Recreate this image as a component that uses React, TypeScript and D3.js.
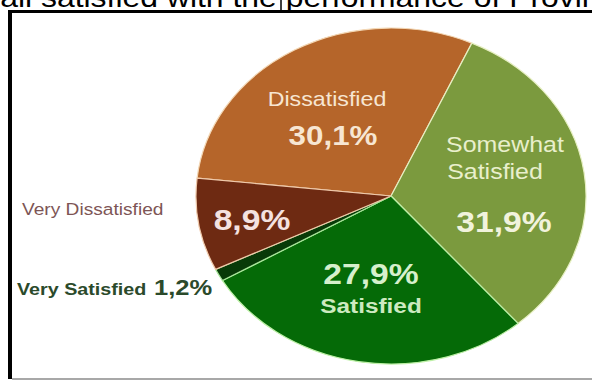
import React from "react";
import * as d3 from "d3";

const categories = ["Dissatisfied", "Somewhat Satisfied", "Satisfied", "Very Satisfied", "Very Dissatisfied"];
const values = [30.1, 31.9, 27.9, 1.2, 8.9];
const valueLabels = ["30,1%", "31,9%", "27,9%", "1,2%", "8,9%"];
const colors = ["#b5652a", "#7b9a3e", "#056a07", "#083a08", "#6e2a12"];
const strokes = ["#f3d7b4", "#e6efc2", "#bdf0a6", "#a8e69a", "#f0c9aa"];
const titleText = "Overall satisfied with the performance of Provincial Government";

const W = 592;
const H = 381;
const cx = 391;
const cy = 196;
const ry = 168;
const rx = 195;
const sx = rx / ry;
const FONT = "Arial, 'Liberation Sans', Helvetica, sans-serif";

function T(props: {
  x: number; y: number; size: number; bold?: boolean; fill: string;
  anchor?: "start" | "middle" | "end"; children: React.ReactNode;
}) {
  const { x, y, size, bold, fill, anchor = "middle", children } = props;
  return (
    <text
      transform={`translate(${x},${y}) scale(${sx},1)`}
      textAnchor={anchor}
      fontFamily={FONT}
      fontSize={size}
      fontWeight={bold ? "bold" : "normal"}
      fill={fill}
    >
      {children}
    </text>
  );
}

export default function App() {
  const startDeg = 24.5 - (values[0] / 100) * 360;
  const a0 = (startDeg * Math.PI) / 180;
  const pie = d3.pie<number>().sort(null).value((d) => d).startAngle(a0).endAngle(a0 + 2 * Math.PI);
  const arcs = pie(values);
  const arc = d3.arc<d3.PieArcDatum<number>>().innerRadius(0).outerRadius(ry);

  return (
    <svg width={W} height={H} style={{ position: "absolute", left: 0, top: 0, background: "#fff" }}>
      <rect x={0} y={0} width={W} height={H} fill="#fff" />
      {/* title (cut off at top) */}
      <text
        transform={`translate(-69,6.5) scale(${sx},1)`}
        fontFamily={FONT}
        fontSize={27.5}
        fill="#000"
      >
        {titleText}
      </text>
      <line x1={281} x2={281} y1={0} y2={12} stroke="#000" strokeWidth={1.5} />
      {/* frame */}
      <line x1={8} x2={W} y1={11.5} y2={11.5} stroke="#000" strokeWidth={3} />
      <line x1={10} x2={10} y1={10} y2={379} stroke="#000" strokeWidth={4} />
      <line x1={12} x2={W} y1={379} y2={379} stroke="#a8a8a8" strokeWidth={2} />

      <g transform={`translate(${cx},${cy}) scale(${sx},1)`}>
        {arcs.map((a, i) => (
          <path
            key={categories[i]}
            d={arc(a) || ""}
            fill={colors[i]}
            stroke={strokes[i]}
            strokeWidth={1.2}
            vectorEffect="non-scaling-stroke"
            strokeLinejoin="round"
          />
        ))}
      </g>

      {/* Dissatisfied */}
      <T x={327} y={106} size={20} fill="#f7e6d2">Dissatisfied</T>
      <T x={333} y={145} size={27} bold fill="#f7e6d2">{valueLabels[0]}</T>
      {/* Somewhat Satisfied */}
      <T x={505} y={152} size={21.5} fill="#e9efcc">Somewhat</T>
      <T x={495} y={179} size={21.5} fill="#e9efcc">Satisfied</T>
      <T x={504} y={232} size={29} bold fill="#f1f3dc">{valueLabels[1]}</T>
      {/* Satisfied */}
      <T x={371} y={284} size={29} bold fill="#d6f0cc">{valueLabels[2]}</T>
      <T x={371} y={313} size={21} bold fill="#cdeac0">{categories[2]}</T>
      {/* Very Dissatisfied */}
      <T x={252} y={230} size={29} bold fill="#f4e2e0">{valueLabels[4]}</T>
      <T x={22} y={215} size={16.5} anchor="start" fill="#7d5555">{categories[4]}</T>
      {/* Very Satisfied */}
      <T x={17} y={295} size={17} bold anchor="start" fill="#2b4a2b">{categories[3]}</T>
      <T x={154} y={295} size={22} bold anchor="start" fill="#2b4a2b">{valueLabels[3]}</T>
    </svg>
  );
}
